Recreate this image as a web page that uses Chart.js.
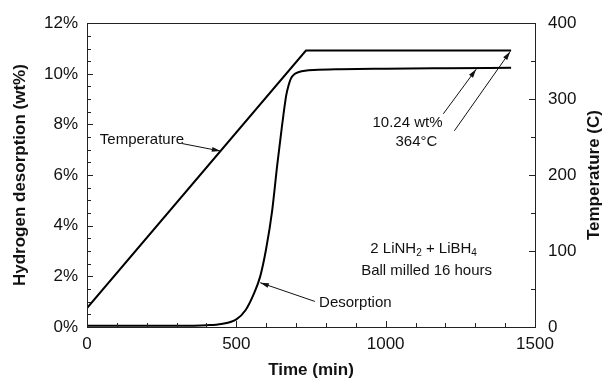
<!DOCTYPE html>
<html><head><meta charset="utf-8">
<script src="https://cdn.jsdelivr.net/npm/chart.js@4/dist/chart.umd.min.js"></script>
<style>html,body{margin:0;padding:0;background:#fff}#wrap{width:607px;height:382px;position:relative}</style>
</head><body><div id="wrap"><canvas id="c" width="607" height="382"></canvas></div>
<script>
// ---- data ----
const desorptionTime = [0, 100, 200, 300, 400, 450, 500, 530, 560, 580, 600, 620, 637, 653, 667, 675, 683, 695, 710, 730, 760, 850, 1000, 1200, 1420];
const desorptionWt   = [0.05, 0.05, 0.05, 0.05, 0.07, 0.12, 0.3, 0.65, 1.35, 2.0, 3.1, 4.6, 6.4, 7.95, 9.15, 9.55, 9.82, 9.99, 10.07, 10.12, 10.15, 10.18, 10.2, 10.22, 10.24];
const temperatureTime = [0, 733, 1420];
const temperatureC    = [25, 364, 364];
const xTickValues = [0, 500, 1000, 1500];
const leftTickValues = [0, 2, 4, 6, 8, 10, 12];
const rightTickValues = [0, 100, 200, 300, 400];
const xTitle = 'Time (min)';
const leftTitle = 'Hydrogen desorption (wt%)';
const rightTitle = 'Temperature (C)';

const FONT = "'Liberation Sans', Arial, Helvetica, sans-serif";

// annotations in data coordinates (x: min, y: wt%)
const notes = [
  {parts: [['Temperature', 0]], x: 43, y: 7.4, align: 'left'},
  {parts: [['Desorption', 0]], x: 777, y: 0.94, align: 'left'},
  {parts: [['10.24 wt%', 0]], x: 1073, y: 8.06, align: 'center'},
  {parts: [['364°C', 0]], x: 1103, y: 7.32, align: 'center'},
  {parts: [['2 LiNH', 0], ['2', 1], [' + LiBH', 0], ['4', 1]], x: 1127, y: 3.08, align: 'center'},
  {parts: [['Ball milled 16 hours', 0]], x: 1137, y: 2.22, align: 'center'}
];
const arrows = [
  {from: [317, 7.25], to: [447, 6.95]},
  {from: [763, 1.01], to: [580, 1.75]},
  {from: [1193, 8.42], to: [1303, 10.18]},
  {from: [1230, 7.75], to: [1417, 10.88]}
];

const pts = (xs, ys) => xs.map((x, i) => ({x, y: ys[i]}));

const decorPlugin = {
  id: 'decor',
  afterDraw(chart) {
    const ctx = chart.ctx, a = chart.chartArea;
    const sx = chart.scales.x, sy = chart.scales.y, sy2 = chart.scales.y2;
    ctx.save();
    ctx.strokeStyle = '#222';
    ctx.lineWidth = 1;
    ctx.strokeRect(Math.round(a.left) + 0.5, Math.round(a.top) + 0.5, Math.round(a.right - a.left), Math.round(a.bottom - a.top));
    ctx.beginPath();
    for (let v = 0; v <= 1500; v += 100) {
      const px = Math.round(sx.getPixelForValue(v)) + 0.5;
      const len = v % 500 === 0 ? 6 : 4;
      ctx.moveTo(px, a.bottom); ctx.lineTo(px, a.bottom - len);
    }
    for (let v = 0; v <= 12; v += 0.5) {
      const py = Math.round(sy.getPixelForValue(v)) + 0.5;
      const len = v % 2 === 0 ? 6 : 4;
      ctx.moveTo(a.left, py); ctx.lineTo(a.left + len, py);
    }
    for (let v = 0; v <= 400; v += 50) {
      const py = Math.round(sy2.getPixelForValue(v)) + 0.5;
      const len = v % 100 === 0 ? 6 : 4;
      ctx.moveTo(a.right, py); ctx.lineTo(a.right - len, py);
    }
    ctx.stroke();

    // right axis title (reads bottom-to-top)
    ctx.save();
    ctx.fillStyle = '#111';
    ctx.font = 'bold 17px ' + FONT;
    ctx.textAlign = 'center';
    ctx.textBaseline = 'middle';
    ctx.translate(a.right + 59, (a.top + a.bottom) / 2);
    ctx.rotate(-Math.PI / 2);
    ctx.fillText(rightTitle, 0, 0);
    ctx.restore();

    // annotation text
    ctx.fillStyle = '#111';
    ctx.textBaseline = 'middle';
    notes.forEach(n => {
      const px = sx.getPixelForValue(n.x), py = sy.getPixelForValue(n.y);
      const fonts = ['15px ' + FONT, '10px ' + FONT];
      let total = 0;
      n.parts.forEach(([t, s]) => { ctx.font = fonts[s]; total += ctx.measureText(t).width; });
      let x = n.align === 'center' ? px - total / 2 : px;
      ctx.textAlign = 'left';
      n.parts.forEach(([t, s]) => {
        ctx.font = fonts[s];
        ctx.fillText(t, x, py + (s ? 4 : 0));
        x += ctx.measureText(t).width;
      });
    });
    ctx.strokeStyle = '#111';
    ctx.lineWidth = 1;
    arrows.forEach(ar => {
      const x1 = sx.getPixelForValue(ar.from[0]), y1 = sy.getPixelForValue(ar.from[1]);
      const x2 = sx.getPixelForValue(ar.to[0]), y2 = sy.getPixelForValue(ar.to[1]);
      ctx.beginPath(); ctx.moveTo(x1, y1); ctx.lineTo(x2, y2); ctx.stroke();
      const ang = Math.atan2(y2 - y1, x2 - x1), L = 9, W = 0.28;
      ctx.beginPath();
      ctx.moveTo(x2, y2);
      ctx.lineTo(x2 - L * Math.cos(ang - W), y2 - L * Math.sin(ang - W));
      ctx.lineTo(x2 - L * Math.cos(ang + W), y2 - L * Math.sin(ang + W));
      ctx.closePath(); ctx.fill();
    });
    ctx.restore();
  }
};

new Chart(document.getElementById('c'), {
  type: 'line',
  data: {
    datasets: [
      {label: 'Desorption', data: pts(desorptionTime, desorptionWt), yAxisID: 'y',
       borderColor: '#000', borderWidth: 2, pointRadius: 0, cubicInterpolationMode: 'monotone', fill: false},
      {label: 'Temperature', data: pts(temperatureTime, temperatureC), yAxisID: 'y2',
       borderColor: '#000', borderWidth: 2, pointRadius: 0, tension: 0, fill: false}
    ]
  },
  options: {
    responsive: false, animation: false, devicePixelRatio: 1,
    layout: {padding: {top: 19, left: 0, right: 0, bottom: 0}},
    plugins: {legend: {display: false}, tooltip: {enabled: false}},
    scales: {
      x: {
        type: 'linear', min: 0, max: 1500,
        afterFit: s => { s.height = 55; },
        afterBuildTicks: s => { s.ticks = xTickValues.map(v => ({value: v})); },
        grid: {display: false, drawTicks: false}, border: {display: false},
        ticks: {color: '#111', font: {family: FONT, size: 17}, padding: 7, maxRotation: 0, callback: v => String(v)},
        title: {display: true, text: xTitle, color: '#111', font: {family: FONT, size: 17, weight: 'bold'}, padding: {top: 0, bottom: 1}}
      },
      y: {
        type: 'linear', position: 'left', min: 0, max: 12,
        afterFit: s => { s.width = 87; },
        afterBuildTicks: s => { s.ticks = leftTickValues.map(v => ({value: v})); },
        grid: {display: false, drawTicks: false}, border: {display: false},
        ticks: {color: '#111', font: {family: FONT, size: 17}, padding: 9, callback: v => v + '%'},
        title: {display: true, text: leftTitle, color: '#111', font: {family: FONT, size: 17, weight: 'bold'}, padding: {top: 10, bottom: 0}}
      },
      y2: {
        type: 'linear', position: 'right', min: 0, max: 400,
        afterFit: s => { s.width = 72; },
        afterBuildTicks: s => { s.ticks = rightTickValues.map(v => ({value: v})); },
        grid: {display: false, drawTicks: false}, border: {display: false},
        ticks: {color: '#111', font: {family: FONT, size: 17}, padding: 13, callback: v => String(v)},
        title: {display: false}
      }
    }
  },
  plugins: [decorPlugin]
});
</script>
</body></html>
